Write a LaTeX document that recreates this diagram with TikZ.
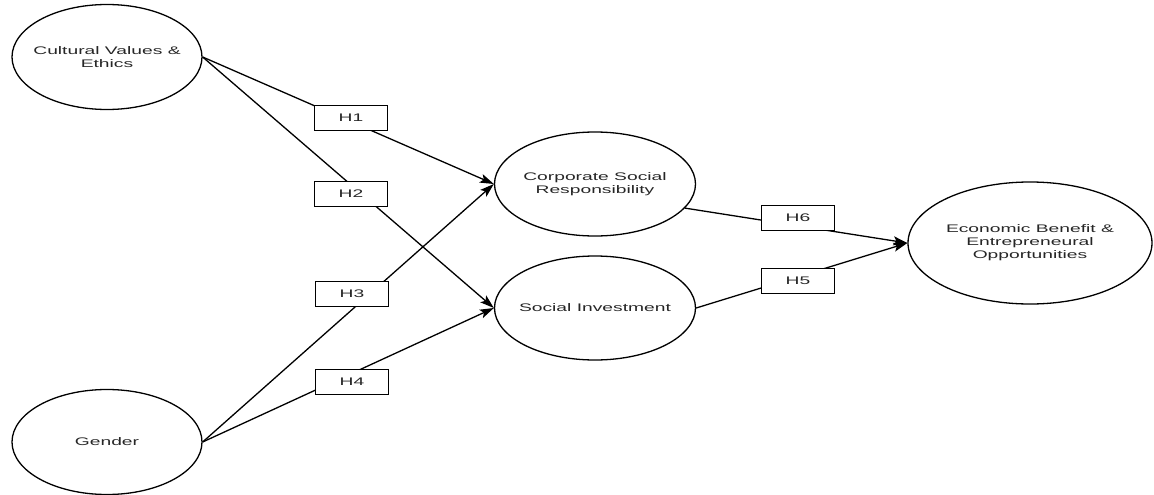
\documentclass[tikz,border=0pt]{standalone}
\usepackage{fontspec}
\setmainfont[FakeStretch=1.75]{Liberation Sans}
\usetikzlibrary{shapes.geometric,arrows.meta}
\begin{document}
\begin{tikzpicture}[x=1pt,y=-1pt,
  txt/.style={align=center,inner sep=0pt,font=\fontsize{11}{13}\selectfont,text=black!85},
  construct/.style={ellipse,draw,line width=1.3pt,inner sep=0pt},
  small/.style={construct,minimum width=190pt,minimum height=105pt},
  mid/.style={construct,minimum width=201pt,minimum height=104pt},
  big/.style={construct,minimum width=244pt,minimum height=122pt},
  hyp/.style={draw,fill=white,line width=1.3pt,minimum width=73pt,minimum height=25pt,
    inner sep=0pt,font=\fontsize{11}{13}\selectfont,text=black!85},
  path/.style={line width=1.3pt,-{Stealth[length=14pt,width=9pt,inset=3pt]}}]
\useasboundingbox (0,0) rectangle (1154,495);
\node[small,label={[txt]center:Cultural Values \&\\Ethics}] (cv) at (107,57) {};
\node[small,label={[txt]center:Gender}] (gen) at (107,442) {};
\node[mid,label={[txt]center:Corporate Social\\Responsibility}] (csr) at (595,184) {};
\node[mid,label={[txt]center:Social Investment}] (si) at (595,308) {};
\node[big,label={[txt]center:Economic Benefit \&\\Entrepreneural\\Opportunities}] (eb) at (1030,243) {};
\draw[path] (cv.east) -- (csr.west);
\draw[path] (cv.east) -- (si.west);
\draw[path] (gen.east) -- (csr.west);
\draw[path] (gen.east) -- (si.west);
\draw[path] (csr.-15) -- (eb.west);
\draw[path] (si.east) -- (eb.west);
\node[hyp] (h1) at (351,118) {H1};
\node[hyp] (h2) at (351,194) {H2};
\node[hyp] (h3) at (352,294) {H3};
\node[hyp] (h4) at (352,382) {H4};
\node[hyp] (h6) at (798,218) {H6};
\node[hyp] (h5) at (798,281) {H5};
\end{tikzpicture}
\end{document}
